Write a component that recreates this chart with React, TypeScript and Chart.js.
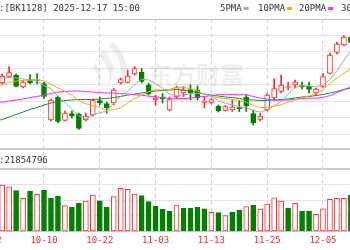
import React, { useEffect, useRef } from 'react';
import { Chart, registerables } from 'chart.js';

Chart.register(...registerables);

// ---------- text ----------
const TITLE = ':[BK1128] 2025-12-17 15:00';
const VOLUME_LABEL = ':21854796';
const WATERMARK = '东方财富';
const LEGEND_NAMES = ['5PMA', '10PMA', '20PMA', '30PMA'];

// ---------- data (one entry per trading day) ----------
const DATES = [
  '09-23', '09-24', '09-25', '09-26', '09-29', '09-30', '10-09', '10-10', '10-13', '10-14',
  '10-15', '10-16', '10-17', '10-20', '10-21', '10-22', '10-23', '10-24', '10-27', '10-28',
  '10-29', '10-30', '10-31', '11-03', '11-04', '11-05', '11-06', '11-07', '11-10', '11-11',
  '11-12', '11-13', '11-14', '11-17', '11-18', '11-19', '11-20', '11-21', '11-24', '11-25',
  '11-26', '11-27', '11-28', '12-01', '12-02', '12-03', '12-04', '12-05', '12-08', '12-09',
  '12-10', '12-11',
];
const OPEN = [
  1054, 1051, 1057.5, 1059, 1047, 1054.5, 1054.5, 1050.5, 1014, 1037,
  1013.5, 1020.5, 1020, 1014, 1019, 1033.5, 1030.5, 1031, 1051, 1051.5,
  1060, 1062, 1049, 1034, 1037, 1024, 1037, 1041, 1044.5, 1044,
  1031.5, 1031.5, 1028, 1023.5, 1024, 1026.5, 1037, 1020.5, 1014.5, 1024,
  1036, 1042.5, 1046.5, 1049, 1048.5, 1048, 1041, 1047.5, 1060.5, 1081.5,
  1089, 1097,
];
const HIGH = [
  1055, 1060, 1067.5, 1060, 1053, 1059.5, 1060.5, 1052, 1035, 1038,
  1023, 1023, 1021, 1021, 1035, 1037, 1032, 1045.5, 1056, 1064,
  1067.5, 1065.5, 1051, 1039, 1040.5, 1037, 1048, 1047.5, 1049, 1048,
  1037.5, 1035.5, 1029, 1028.5, 1034, 1033.5, 1039, 1024, 1020.5, 1040.5,
  1055.5, 1059, 1052, 1054, 1052, 1052, 1046, 1060.5, 1081, 1092,
  1098.5, 1099,
];
const LOW = [
  1049, 1050, 1057, 1047, 1046, 1050, 1050, 1035.5, 1013, 1011,
  1013, 1016, 1004.5, 1013, 1018, 1029, 1021, 1029, 1050, 1051,
  1059, 1051, 1039, 1029, 1031, 1023, 1036, 1037.5, 1034, 1034,
  1026, 1030.5, 1022, 1023, 1022.5, 1022.5, 1022.5, 1009, 1013, 1023,
  1034, 1041, 1044, 1046, 1045, 1041, 1039, 1046.5, 1060, 1080,
  1088, 1090,
];
const CLOSE = [
  1050, 1058, 1061.5, 1047.5, 1052, 1051, 1053.5, 1037.5, 1034, 1012.5,
  1021, 1018, 1005.5, 1018, 1033.5, 1031, 1026, 1044, 1054.5, 1058,
  1065.5, 1052.5, 1040, 1036, 1035, 1034.5, 1046.5, 1044, 1041, 1036,
  1033, 1034.5, 1023, 1027.5, 1027, 1025, 1028, 1011, 1018, 1039,
  1045.5, 1049, 1047.5, 1052, 1047, 1044.5, 1045, 1057.5, 1079, 1090,
  1097, 1091.5,
];
const VOLUME = [
  25030000, 29680000, 28570000, 26010000, 21120000, 25790000, 23710000, 26450000, 21090000, 22380000,
  16320000, 15290000, 18070000, 19360000, 23230000, 19540000, 15310000, 22130000, 27540000, 26880000,
  23870000, 22780000, 18910000, 16130000, 14190000, 12900000, 16770000, 14640000, 14610000, 15320000,
  14230000, 12060000, 11810000, 9870000, 12260000, 13550000, 15680000, 16580000, 14210000, 17420000,
  21480000, 19370000, 14640000, 17870000, 12930000, 12880000, 10790000, 14230000, 20460000, 21090000,
  21130000, 23240000,
];
const MA5 = [
  1055, 1056, 1056.5, 1056, 1055, 1054, 1053.1, 1048.3, 1045.6, 1037.7,
  1031.7, 1024.6, 1018.2, 1015, 1019.2, 1021.2, 1022.8, 1030.5, 1037.8, 1042.7,
  1049.6, 1054.9, 1054.1, 1050.4, 1045.8, 1039.6, 1038.4, 1039.2, 1040.2, 1040.4,
  1040.1, 1037.7, 1033.5, 1030.8, 1029, 1027.4, 1026.1, 1023.7, 1021.8, 1024.2,
  1028.3, 1032.5, 1039.8, 1046.6, 1048.2, 1048, 1047.2, 1049.2, 1054.6, 1063.2,
  1073.7, 1083,
];
const MA10 = [
  1048, 1049.5, 1051.5, 1053, 1053.5, 1054, 1054.5, 1053, 1050, 1046,
  1042.8, 1038.8, 1033.2, 1030.3, 1028.4, 1026.4, 1023.7, 1024.3, 1026.4, 1030.9,
  1035.4, 1038.8, 1042.3, 1044.1, 1044.2, 1044.6, 1046.6, 1046.6, 1045.3, 1043.1,
  1039.8, 1038, 1036.3, 1035.5, 1034.7, 1033.7, 1031.9, 1028.6, 1026.3, 1026.6,
  1027.8, 1029.3, 1031.7, 1034.2, 1036.2, 1038.1, 1039.8, 1044.5, 1050.6, 1055.7,
  1060.8, 1065.1,
];
const MA20 = [
  1031.5, 1032, 1033, 1034, 1035, 1036.5, 1037.5, 1039, 1040.5, 1042,
  1042.5, 1043, 1043, 1042.5, 1042, 1041.5, 1041, 1041, 1040.5, 1040,
  1039.1, 1038.8, 1037.8, 1037.2, 1036.3, 1035.5, 1035.2, 1035.5, 1035.8, 1037,
  1037.6, 1038.4, 1039.3, 1039.8, 1039.5, 1039.2, 1039.3, 1037.6, 1035.8, 1034.8,
  1033.8, 1033.7, 1034, 1034.8, 1035.4, 1035.9, 1035.9, 1036.5, 1038.4, 1041.1,
  1044.3, 1047.2,
];
const MA30 = [
  1013, 1014.5, 1017, 1019.5, 1022, 1024.5, 1026.5, 1029, 1031, 1032.5,
  1033.5, 1034, 1034.5, 1034.5, 1034.5, 1035, 1035.5, 1036.5, 1037.5, 1039,
  1040, 1041, 1042, 1043, 1043.5, 1044, 1044.5, 1044, 1043, 1041.5,
  1040, 1039, 1038, 1037, 1036.5, 1035.5, 1034.5, 1034, 1033.5, 1033.5,
  1034, 1034.5, 1035, 1036, 1037, 1037.5, 1038.5, 1039.5, 1041, 1042.5,
  1044.5, 1046,
];
// x-axis labels and the trading-day index (in DATES numbering) where each sits
const TICK_LABELS = ['09-22', '10-10', '10-22', '11-03', '11-13', '11-25', '12-05', '12-17'];
const TICK_INDEX = [-1, 7, 15, 23, 31, 39, 47, 55];

// ---------- styles ----------
const RED = '#ff2a2a';
const GREEN = '#008000';
const MA_COLORS = ['#a8a8a8', '#f5a623', '#ff2bff', '#1f8a46'];
const MONO = '"DejaVu Sans Mono", monospace';
const LEGEND_X = [220, 258, 299, 341];

const PRICE_MIN = 1000;
const PRICE_MAX = 1115;
const VOL_MAX = 40000000;

const overlay = {
  id: 'overlay',
  beforeDatasetsDraw(chart: any) {
    const ctx = chart.ctx as CanvasRenderingContext2D;
    ctx.save();
    ctx.fillStyle = 'rgba(0,0,0,0.065)';
    // logo-like swooshes
    ctx.beginPath();
    ctx.moveTo(113, 42);
    ctx.quadraticCurveTo(136, 62, 119, 88);
    ctx.quadraticCurveTo(127, 62, 108, 46);
    ctx.closePath();
    ctx.fill();
    ctx.beginPath();
    ctx.moveTo(103, 50);
    ctx.quadraticCurveTo(121, 66, 107, 88);
    ctx.quadraticCurveTo(113, 68, 99, 56);
    ctx.closePath();
    ctx.fill();
    ctx.beginPath();
    ctx.moveTo(95, 62);
    ctx.quadraticCurveTo(105, 74, 97, 88);
    ctx.quadraticCurveTo(101, 76, 93, 68);
    ctx.closePath();
    ctx.fill();
    ctx.font = 'bold 24px "Noto Sans CJK SC"';
    ctx.textBaseline = 'middle';
    ctx.fillText(WATERMARK, 148, 75);
    ctx.restore();
  },
  afterDraw(chart: any) {
    const ctx = chart.ctx as CanvasRenderingContext2D;
    ctx.save();
    ctx.font = '9px ' + MONO;
    ctx.textBaseline = 'middle';
    ctx.fillStyle = '#333';
    ctx.fillText(TITLE, -1, 8.5);
    ctx.fillText(VOLUME_LABEL, -1, 160.5);
    LEGEND_NAMES.forEach((name, j) => {
      ctx.fillStyle = '#333';
      ctx.fillText(name, LEGEND_X[j], 8.5);
      const w = ctx.measureText(name).width;
      ctx.fillStyle = MA_COLORS[j];
      ctx.fillRect(LEGEND_X[j] + w + 2, 7, 5, 3);
    });
    ctx.restore();
  },
};

export default function App() {
  const ref = useRef<HTMLCanvasElement>(null);

  useEffect(() => {
    document.body.style.margin = '0';
    const canvas = ref.current!;
    const idx = DATES.map((_, i) => i);
    const up = idx.map((i) => CLOSE[i] >= OPEN[i]);
    const volUp = idx.map((i) => (i === 0 ? CLOSE[i] >= OPEN[i] : CLOSE[i] >= CLOSE[i - 1]));
    const first = TICK_INDEX[1] - 6.308; // so that 10-10 sits where the reference puts it
    const xMin = first;
    const xMax = first + 50.18;

    const maLine = (label: string, values: number[], color: string) => ({
      type: 'line' as const,
      label,
      data: values.map((v, i) => ({ x: i, y: v })),
      yAxisID: 'y',
      borderColor: color,
      borderWidth: 1,
      pointRadius: 0,
      tension: 0,
      order: 0,
    });

    const chart = new Chart(canvas, {
      type: 'bar',
      data: {
        datasets: [
          maLine('MA5', MA5, MA_COLORS[0]),
          maLine('MA10', MA10, MA_COLORS[1]),
          maLine('MA20', MA20, MA_COLORS[2]),
          maLine('MA30', MA30, MA_COLORS[3]),
          {
            type: 'bar',
            label: 'body',
            data: idx.map((i) => ({ x: i, y: [OPEN[i], CLOSE[i]] })),
            yAxisID: 'y',
            backgroundColor: idx.map((i) => (up[i] ? '#ffffff' : GREEN)),
            borderColor: idx.map((i) => (up[i] ? RED : GREEN)),
            borderWidth: 1,
            borderSkipped: false,
            barThickness: 5,
            grouped: false,
            order: 2,
          } as any,
          {
            type: 'bar',
            label: 'wick',
            data: idx.map((i) => ({ x: i, y: [LOW[i], HIGH[i]] })),
            yAxisID: 'y',
            backgroundColor: idx.map((i) => (up[i] ? RED : GREEN)),
            borderWidth: 0,
            barThickness: 1,
            grouped: false,
            order: 3,
          } as any,
          {
            type: 'bar',
            label: 'volume',
            data: idx.map((i) => ({ x: i, y: VOLUME[i] })),
            yAxisID: 'vol',
            backgroundColor: idx.map((i) => (volUp[i] ? '#ffffff' : GREEN)),
            borderColor: idx.map((i) => (volUp[i] ? RED : GREEN)),
            borderWidth: 1,
            borderSkipped: false,
            barThickness: 5,
            grouped: false,
            order: 2,
          } as any,
        ],
      },
      options: {
        responsive: false,
        maintainAspectRatio: false,
        animation: false,
        devicePixelRatio: 1,
        layout: { padding: { top: 19, left: 0, right: 0, bottom: 0 } },
        plugins: { legend: { display: false }, tooltip: { enabled: false }, title: { display: false } },
        scales: {
          x: {
            type: 'linear',
            position: 'bottom',
            min: xMin,
            max: xMax,
            offset: false,
            afterBuildTicks: (s: any) => {
              s.ticks = TICK_INDEX.map((v) => ({ value: v }));
            },
            afterFit: (s: any) => {
              s.paddingLeft = 0;
              s.paddingRight = 0;
              s.height = 19;
            },
            grid: { offset: false, color: '#d2d2d2', lineWidth: 1, drawTicks: false },
            border: { display: true, color: '#c8c8c8', width: 1, dash: [4, 3] },
            ticks: {
              autoSkip: false,
              maxRotation: 0,
              padding: 4,
              color: '#ee2a2a',
              font: { family: MONO, size: 9 },
              callback: (_v: any, i: number) => TICK_LABELS[i],
            },
          },
          y: {
            type: 'linear',
            position: 'left',
            stack: 'panes',
            stackWeight: 115,
            weight: 3,
            min: PRICE_MIN,
            max: PRICE_MAX,
            afterBuildTicks: (s: any) => {
              s.ticks = Array.from({ length: 8 }, (_, j) => ({ value: PRICE_MIN + (j * (PRICE_MAX - PRICE_MIN)) / 7 }));
            },
            ticks: { display: false },
            grid: {
              drawTicks: false,
              color: (c: any) => (c.tick && c.tick.value >= PRICE_MAX - 0.01 ? '#c4c4c4' : '#e2e2e2'),
            },
            border: { display: false },
          },
          gap: {
            type: 'linear',
            position: 'left',
            stack: 'panes',
            stackWeight: 35,
            weight: 2,
            min: 0,
            max: 35,
            afterBuildTicks: (s: any) => {
              s.ticks = [{ value: 0 }, { value: 20 }];
            },
            ticks: { display: false },
            grid: { drawTicks: false, color: '#cdcdcd', lineWidth: 2 },
            border: { display: false },
          },
          vol: {
            type: 'linear',
            position: 'left',
            stack: 'panes',
            stackWeight: 62,
            weight: 1,
            min: 0,
            max: VOL_MAX,
            afterBuildTicks: (s: any) => {
              s.ticks = [1, 2, 3].map((j) => ({ value: (j * VOL_MAX) / 4 }));
            },
            ticks: { display: false },
            grid: { drawTicks: false, color: '#e2e2e2' },
            border: { display: false },
          },
        },
      } as any,
      plugins: [overlay],
    });
    return () => chart.destroy();
  }, []);

  return (
    <div style={{ width: 350, height: 250, overflow: 'hidden', background: '#fff' }}>
      <canvas ref={ref} width={350} height={250} style={{ display: 'block' }} />
    </div>
  );
}
